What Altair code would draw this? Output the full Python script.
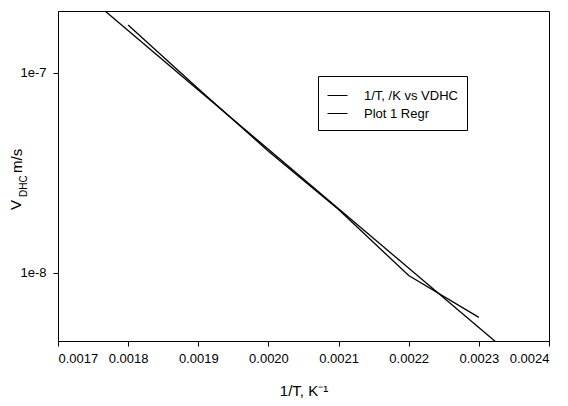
import altair as alt
import pandas as pd

# data line: 1/T vs VDHC
x_data = [0.0018, 0.0019, 0.0020, 0.0021, 0.0022, 0.0023]
v_data = [1.73e-7, 8.3e-8, 4.05e-8, 2.07e-8, 9.7e-9, 6.0e-9]
# regression line endpoints
x_reg = [0.00176, 0.00234]
v_reg = [2.13e-7, 4.06e-9]

series_names = ["1/T, /K vs VDHC", "Plot 1 Regr"]
x_ticks = [0.0017, 0.0018, 0.0019, 0.0020, 0.0021, 0.0022, 0.0023, 0.0024]
y_ticks = [1e-8, 1e-7]

df = pd.concat([
    pd.DataFrame({"x": x_data, "v": v_data, "s": series_names[0], "o": range(len(x_data))}),
    pd.DataFrame({"x": x_reg, "v": v_reg, "s": series_names[1], "o": range(len(x_reg))}),
])

FONT = "Liberation Sans"

lines = alt.Chart(df).mark_line(clip=True, strokeWidth=1.3).encode(
    x=alt.X("x:Q", scale=alt.Scale(domain=[0.0017, 0.0024], nice=False, zero=False),
            axis=alt.Axis(values=x_ticks, format=".4f", title="1/T, K⁻¹", grid=False,
                          tickSize=5, labelPadding=6, titlePadding=18)),
    y=alt.Y("v:Q", scale=alt.Scale(type="log", domain=[4.57e-9, 2.03e-7], nice=False),
            axis=alt.Axis(values=y_ticks, format=".0e", title=None, grid=False,
                          tickSize=5, labelPadding=7)),
    color=alt.Color("s:N", scale=alt.Scale(domain=series_names, range=["black", "black"]),
                    legend=alt.Legend(title=None, orient="none", legendX=260, legendY=65,
                                      symbolType="stroke", symbolSize=400, symbolStrokeWidth=1,
                                      strokeColor="black", padding=9, labelFontSize=13,
                                      labelFont=FONT, labelColor="black", rowPadding=-2,
                                      labelOffset=16)),
    detail="s:N",
    order="o:Q",
)

def ytext(txt, size, x, y):
    return alt.Chart(pd.DataFrame({"t": [txt]})).mark_text(
        angle=270, align="left", baseline="alphabetic", fontSize=size, font=FONT, color="black"
    ).encode(text="t:N", x=alt.value(x), y=alt.value(y))

ytitle = ytext("V", 15, -37, 199) + ytext("DHC", 10, -31, 186) + ytext("m/s", 15, -36, 162)

chart = alt.layer(lines, ytitle).properties(
    width=491, height=330,
    autosize=alt.AutoSizeParams(type="none"),
    padding={"left": 50, "top": 3, "right": 10, "bottom": 57},
).configure(background="white").configure_view(stroke="black", strokeWidth=1).configure_axis(
    domainColor="black", tickColor="black", labelColor="black", titleColor="black",
    labelFont=FONT, titleFont=FONT, labelFontSize=13, titleFontSize=15, titleFontWeight="normal",
)

chart.save("out.html", embed_options={"renderer": "svg", "actions": False})
